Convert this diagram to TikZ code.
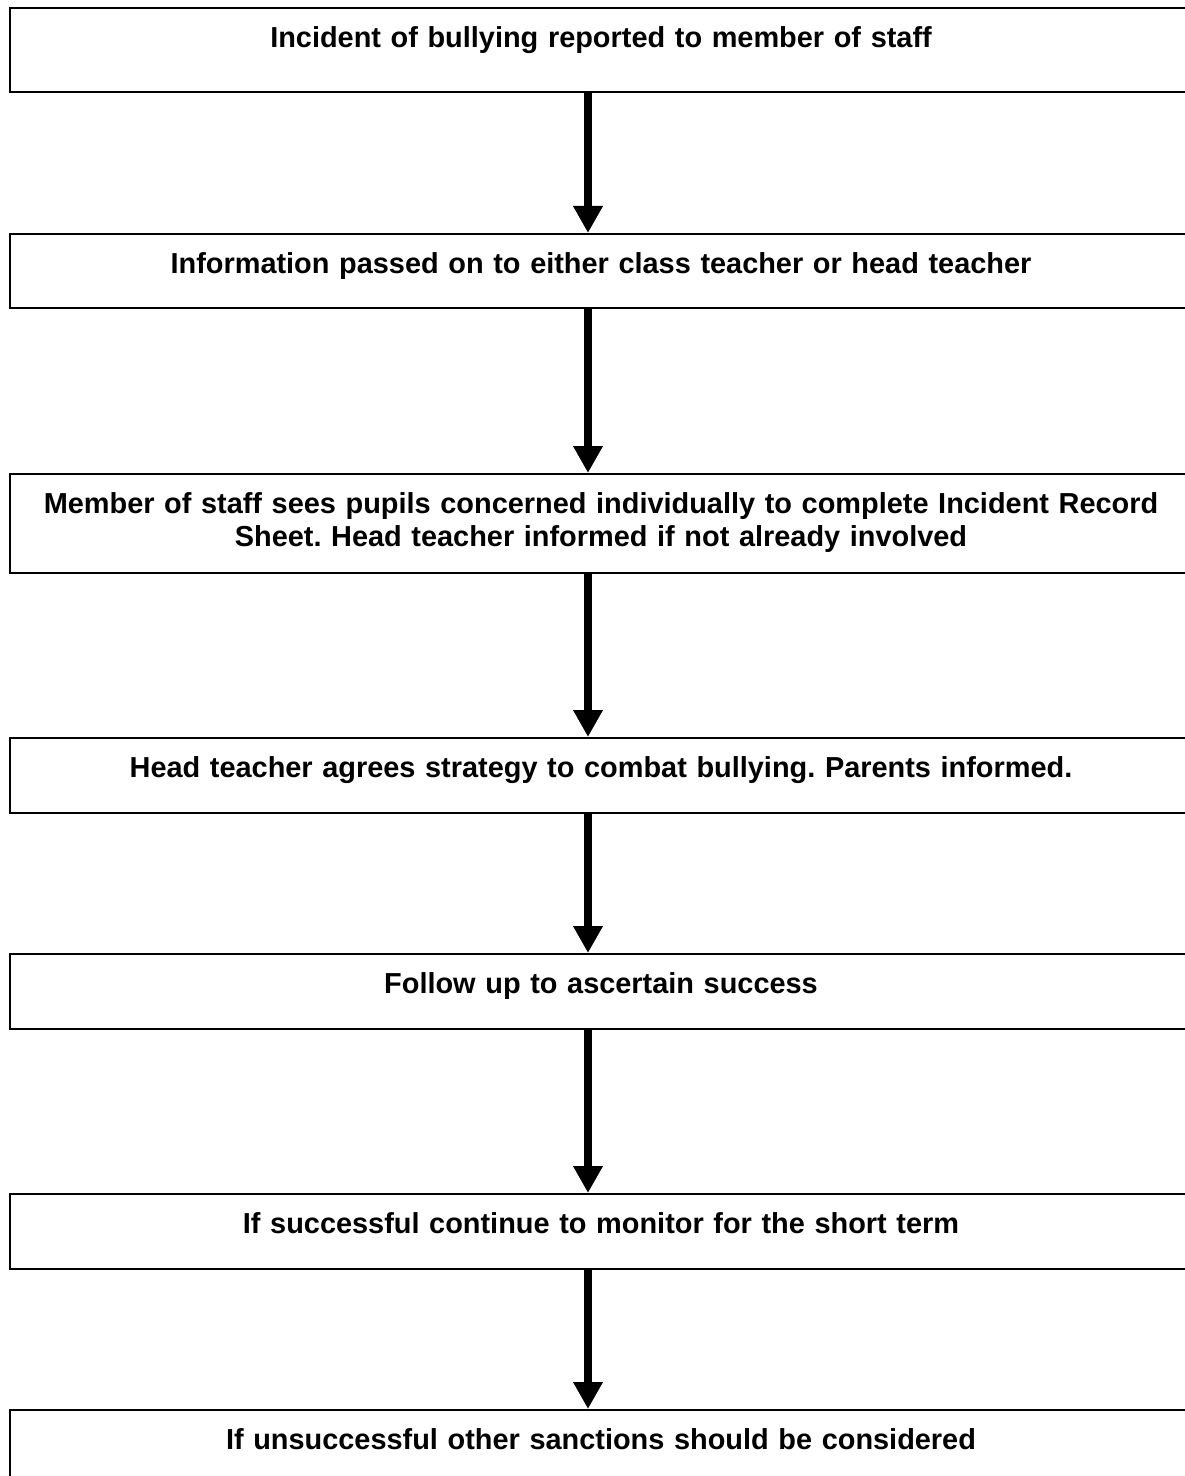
\documentclass[tikz,border=0pt]{standalone}
\usepackage{fontspec}
\setmainfont{Liberation Sans}
\usetikzlibrary{arrows.meta}
\frenchspacing

\begin{document}
\begin{tikzpicture}[x=0.5pt,y=-0.5pt,
    stepbox/.style={rectangle,draw,line width=1.1pt,inner sep=0pt,anchor=north,
        minimum width=591pt,text width=580pt,align=center,
        text height=19.5pt,text depth=18pt,
        font=\fontsize{14.45}{16.5}\selectfont\bfseries},
    flow/.style={line width=4.2pt,-{Triangle[width=14pt,length=13.5pt]}}]
    \useasboundingbox (0,0) rectangle (1184,1476);

    % Steps
    \node[stepbox,text depth=22.5pt] (report) at (601,7) {Incident of bullying reported to member of staff};
    \node[stepbox,text depth=17.5pt] (pass) at (601,233) {Information passed on to either class teacher or head teacher};
    \node[stepbox,text depth=30pt] (see) at (601,473) {Member of staff sees pupils concerned individually to complete Incident Record\\ Sheet. Head teacher informed if not already involved};
    \node[stepbox] (agree) at (601,737) {Head teacher agrees strategy to combat bullying. Parents informed.};
    \node[stepbox] (follow) at (601,953) {Follow up to ascertain success};
    \node[stepbox] (good) at (601,1193) {If successful continue to monitor for the short term};
    \node[stepbox] (bad) at (601,1409) {If unsuccessful other sanctions should be considered};

    % Arrows
    \coordinate (spine) at (588,0);
    \draw[flow] (report.south -| spine) -- (pass.north -| spine);
    \draw[flow] (pass.south -| spine) -- (see.north -| spine);
    \draw[flow] (see.south -| spine) -- (agree.north -| spine);
    \draw[flow] (agree.south -| spine) -- (follow.north -| spine);
    \draw[flow] (follow.south -| spine) -- (good.north -| spine);
    \draw[flow] (good.south -| spine) -- (bad.north -| spine);
\end{tikzpicture}
\end{document}
